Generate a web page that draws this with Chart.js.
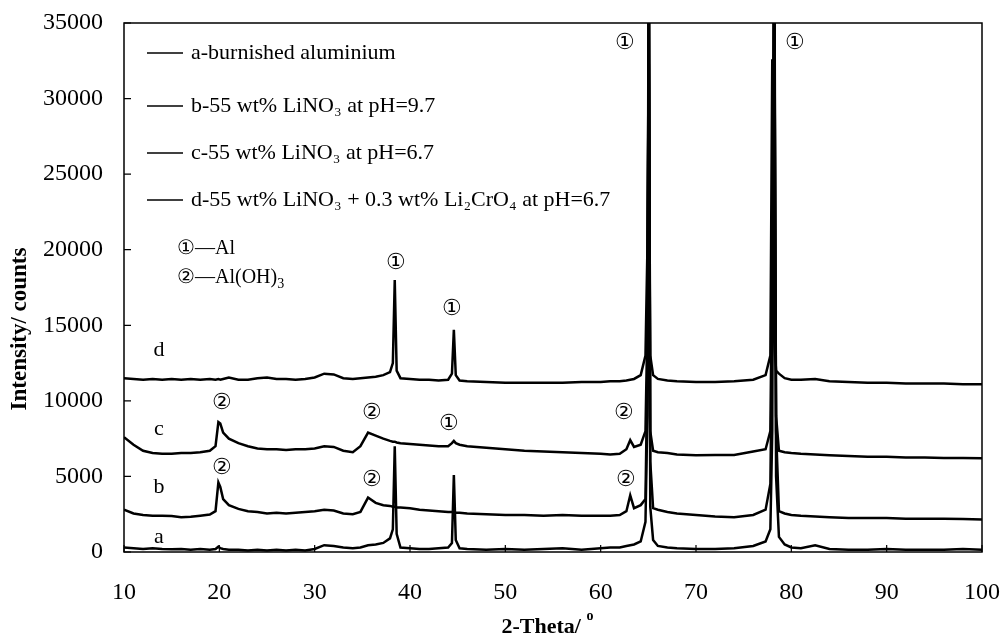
<!DOCTYPE html>
<html>
<head>
<meta charset="utf-8">
<script src="https://cdn.jsdelivr.net/npm/chart.js@4.4.0/dist/chart.umd.min.js"></script>
<style>
  body { margin: 0; background: #fff; }
</style>
</head>
<body>
<canvas id="xrdChart" width="1000" height="637"></canvas>
<script>
// 2-theta positions (deg) shared by all four patterns
const twoTheta = [10, 11, 12, 13, 14, 15, 16, 17, 18, 19,
  19.6, 19.9, 20.1, 20.4, 21, 22, 23, 24, 25, 26,
  27, 28, 29, 30, 31, 32, 33, 34, 34.8, 35.6,
  36.4, 37.2, 37.9, 38.2, 38.4, 38.6, 39, 40, 41, 42,
  43, 44, 44.4, 44.6, 44.8, 45.2, 46, 48, 50, 52,
  54, 56, 58, 60, 61, 62, 62.7, 63.1, 63.5, 64.2,
  64.7, 64.9, 65.05, 65.2, 65.5, 66, 67, 68, 70, 72,
  74, 76, 77.3, 77.8, 78.0, 78.2, 78.4, 78.7, 79.3, 80,
  81, 82.5, 84, 86, 88, 90, 92, 94, 96, 98,
  100];

// a - burnished aluminium
const curveA = [300, 250, 200, 250, 200, 180, 200, 150, 200, 150,
  200, 350, 250, 200, 150, 150, 100, 150, 100, 150,
  100, 150, 100, 200, 450, 400, 300, 250, 300, 450,
  500, 600, 900, 1500, 7000, 1200, 300, 250, 200, 200,
  250, 300, 600, 5100, 800, 250, 200, 150, 200, 150,
  200, 250, 150, 250, 300, 300, 400, 450, 500, 700,
  2000, 9000, 45000, 3000, 800, 400, 300, 250, 200, 200,
  250, 400, 700, 1500, 8000, 45000, 5000, 1000, 500, 300,
  250, 450, 200, 150, 150, 200, 150, 150, 150, 200,
  150];

// b - 55 wt% LiNO3, pH 9.7
const curveB = [2800, 2550, 2450, 2400, 2400, 2380, 2300, 2330, 2400, 2480,
  2700, 4600, 4300, 3500, 3100, 2850, 2700, 2650, 2550, 2600,
  2550, 2600, 2650, 2700, 2800, 2750, 2550, 2500, 2650, 3600,
  3250, 3100, 3050, 3000, 3000, 2950, 2950, 2900, 2800, 2750,
  2700, 2650, 2650, 2650, 2600, 2600, 2550, 2500, 2450, 2450,
  2400, 2450, 2400, 2400, 2400, 2450, 2700, 3750, 2900, 3100,
  3500, 12000, 40000, 6000, 2900, 2800, 2650, 2550, 2450, 2350,
  2300, 2450, 2800, 4500, 15000, 40000, 8000, 2700, 2550, 2450,
  2400, 2350, 2300, 2250, 2250, 2250, 2200, 2200, 2200, 2180,
  2150];

// c - 55 wt% LiNO3, pH 6.7
const curveC = [7600, 7100, 6700, 6550, 6500, 6500, 6550, 6550, 6600, 6700,
  7000, 8600, 8500, 7900, 7500, 7200, 7000, 6850, 6800, 6800,
  6750, 6800, 6800, 6850, 7000, 6950, 6700, 6600, 7000, 7900,
  7700, 7500, 7350, 7300, 7300, 7250, 7200, 7150, 7100, 7050,
  7000, 7000, 7200, 7350, 7200, 7100, 7000, 6900, 6800, 6700,
  6650, 6600, 6550, 6500, 6450, 6500, 6800, 7400, 6950, 7100,
  8000, 15000, 38000, 8000, 6700, 6600, 6550, 6450, 6400, 6420,
  6420, 6650, 6800, 8000, 20000, 38000, 9000, 6700, 6600, 6550,
  6500, 6450, 6400, 6350, 6300, 6300, 6250, 6250, 6220, 6220,
  6200];

// d - 55 wt% LiNO3 + 0.3 wt% Li2CrO4, pH 6.7
const curveD = [11500, 11450, 11400, 11450, 11400, 11450, 11400, 11450, 11400, 11450,
  11400, 11450, 11400, 11450, 11550, 11400, 11400, 11500, 11550, 11450,
  11450, 11400, 11450, 11550, 11800, 11750, 11500, 11450, 11500, 11550,
  11600, 11700, 11900, 12500, 18000, 12000, 11500, 11450, 11400, 11400,
  11350, 11400, 11800, 14700, 11700, 11350, 11300, 11250, 11200, 11200,
  11200, 11200, 11250, 11250, 11300, 11300, 11350, 11400, 11450, 11700,
  13000, 20000, 32300, 13000, 11700, 11450, 11350, 11300, 11250, 11250,
  11300, 11400, 11700, 13000, 32600, 14000, 12000, 11800, 11500, 11400,
  11400, 11450, 11300, 11250, 11200, 11200, 11150, 11150, 11150, 11100,
  11100];

const legendLabels = [
  'a-burnished aluminium',
  'b-55 wt% LiNO\u2083 at pH=9.7',
  'c-55 wt% LiNO\u2083 at pH=6.7',
  'd-55 wt% LiNO\u2083 + 0.3 wt% Li\u2082CrO\u2084 at pH=6.7'
];
const curveTags = ['a', 'b', 'c', 'd'];

const serif = "'Liberation Serif', 'Times New Roman', serif";

function toPoints(ys) {
  return twoTheta.map((x, i) => ({ x: x, y: ys[i] }));
}

const extras = {
  id: 'extras',
  afterDraw(chart) {
    const ctx = chart.ctx;
    const area = chart.chartArea;
    const xs = chart.scales.x;
    const ys = chart.scales.y;
    ctx.save();

    // frame
    ctx.strokeStyle = '#000';
    ctx.lineWidth = 1.5;
    ctx.strokeRect(area.left, area.top, area.right - area.left, area.bottom - area.top);

    // inward tick marks
    ctx.lineWidth = 1.2;
    ctx.beginPath();
    ys.ticks.forEach(t => {
      const py = ys.getPixelForValue(t.value);
      ctx.moveTo(area.left, py);
      ctx.lineTo(area.left + 7, py);
    });
    xs.ticks.forEach(t => {
      const px = xs.getPixelForValue(t.value);
      ctx.moveTo(px, area.bottom);
      ctx.lineTo(px, area.bottom - 7);
    });
    ctx.stroke();

    ctx.fillStyle = '#000';
    ctx.textBaseline = 'middle';

    // legend
    const rows = [53, 106, 153, 200];
    ctx.font = '22px ' + serif;
    legendLabels.forEach((txt, i) => {
      ctx.lineWidth = 1.5;
      ctx.beginPath();
      ctx.moveTo(147, rows[i]);
      ctx.lineTo(183, rows[i]);
      ctx.stroke();
      ctx.textAlign = 'left';
      ctx.fillText(txt, 191, rows[i]);
    });

    // phase key
    ctx.font = '20px ' + serif;
    ctx.fillText('\u2460\u2014Al', 177, 249);
    ctx.fillText('\u2461\u2014Al(OH)', 177, 278);
    const w = ctx.measureText('\u2461\u2014Al(OH)').width;
    ctx.font = '14px ' + serif;
    ctx.fillText('3', 177 + w, 284);

    // peak markers
    ctx.font = '22px ' + serif;
    ctx.textAlign = 'center';
    const marks = [
      ['\u2460', 625, 43], ['\u2460', 795, 43], ['\u2460', 396, 263],
      ['\u2460', 452, 309], ['\u2460', 449, 424],
      ['\u2461', 222, 403], ['\u2461', 372, 413], ['\u2461', 624, 413],
      ['\u2461', 222, 468], ['\u2461', 372, 480], ['\u2461', 626, 480]
    ];
    marks.forEach(m => ctx.fillText(m[0], m[1], m[2]));

    // curve tags
    ctx.font = '22px ' + serif;
    const tagY = [537, 487, 429, 350];
    curveTags.forEach((t, i) => ctx.fillText(t, 159, tagY[i]));

    // axis titles
    ctx.font = 'bold 23px ' + serif;
    ctx.save();
    ctx.translate(20, 329);
    ctx.rotate(-Math.PI / 2);
    ctx.fillText('Intensity/ counts', 0, 0);
    ctx.restore();
    ctx.font = 'bold 22px ' + serif;
    ctx.textAlign = 'left';
    const xt = '2-Theta/ ';
    const xw = ctx.measureText(xt).width;
    ctx.fillText(xt, 548 - (xw + 8) / 2, 627);
    ctx.font = 'bold 14px ' + serif;
    ctx.fillText('o', 548 - (xw + 8) / 2 + xw, 616);

    ctx.restore();
  }
};

const seriesStyle = {
  borderColor: '#000',
  borderWidth: 2.5,
  pointRadius: 0,
  tension: 0,
  fill: false
};

new Chart(document.getElementById('xrdChart'), {
  type: 'line',
  data: {
    datasets: [
      Object.assign({ label: legendLabels[0], data: toPoints(curveA) }, seriesStyle),
      Object.assign({ label: legendLabels[1], data: toPoints(curveB) }, seriesStyle),
      Object.assign({ label: legendLabels[2], data: toPoints(curveC) }, seriesStyle),
      Object.assign({ label: legendLabels[3], data: toPoints(curveD) }, seriesStyle)
    ]
  },
  options: {
    responsive: false,
    animation: false,
    devicePixelRatio: 1,
    layout: { padding: { top: 23, right: 18, left: 0, bottom: 0 } },
    plugins: { legend: { display: false }, tooltip: { enabled: false } },
    scales: {
      x: {
        type: 'linear',
        min: 10,
        max: 100,
        afterFit: s => { s.height = 85; s.paddingLeft = 0; s.paddingRight = 0; },
        grid: { display: false, drawTicks: false },
        border: { display: false },
        ticks: { stepSize: 10, maxRotation: 0, color: '#000', padding: 26, font: { family: serif, size: 24 } }
      },
      y: {
        min: 0,
        max: 35000,
        afterFit: s => { s.width = 124; s.paddingTop = 0; s.paddingBottom = 0; },
        grid: { display: false, drawTicks: false },
        border: { display: false },
        ticks: { stepSize: 5000, color: '#000', padding: 21, font: { family: serif, size: 24 },
          callback: v => String(v) }
      }
    }
  },
  plugins: [extras]
});
</script>
</body>
</html>
